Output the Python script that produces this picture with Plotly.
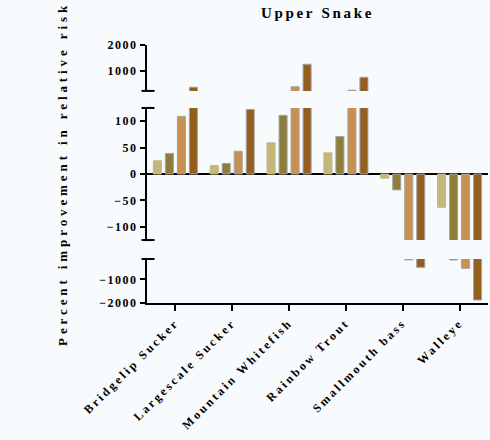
import plotly.graph_objects as go

# species along the x axis
species = ["Bridgelip Sucker", "Largescale Sucker", "Mountain Whitefish",
           "Rainbow Trout", "Smallmouth bass", "Walleye"]

# four scenarios per species (percent improvement in relative risk)
series_1 = [25, 16, 59, 40, -8, -63]
series_2 = [39, 20, 111, 71, -30, -170]
series_3 = [109, 43, 410, 280, -170, -525]
series_4 = [391, 122, 1266, 771, -483, -1872]

colors = ["#C4B77B", "#8E7D3A", "#C8914F", "#935F1F"]
outlines = ["#C4B77B", "#A3A3A3", "#A3A3A3", "#A3A3A3"]

# broken y axis: three segments, top to bottom
top_ticks = [1000, 2000]
mid_ticks = [-100, -50, 0, 50, 100]
bot_ticks = [-2000, -1000]

FONT = "Liberation Serif, Times New Roman, serif"

fig = go.Figure()
all_series = [series_1, series_2, series_3, series_4]
for axis in ["y", "y2", "y3"]:
    for i, vals in enumerate(all_series):
        fig.add_trace(go.Bar(
            x=species, y=vals, yaxis=axis, xaxis="x",
            marker=dict(color=colors[i], line=dict(color=outlines[i], width=1)),
            showlegend=False,
        ))

axis_common = dict(
    showline=True, linecolor="black", linewidth=2,
    ticks="outside", ticklen=5, tickwidth=2, tickcolor="black",
    showgrid=False, anchor="x",
    tickfont=dict(family=FONT, size=12, color="black", weight="bold"),
)

fig.update_layout(
    width=490, height=440,
    margin=dict(l=147, r=2, t=45, b=137),
    paper_bgcolor="#F8FBFD", plot_bgcolor="#F8FBFD",
    barmode="group", bargap=0.155, bargroupgap=0.33,
    title=dict(text="Upper Snake", x=0.5, xref="paper", xanchor="center",
               y=0.972, yanchor="middle",
               font=dict(family=FONT, size=15, color="black", weight="bold")),
    xaxis=dict(
        anchor="y3", showline=True, linecolor="black", linewidth=2,
        ticks="outside", ticklen=6, tickwidth=2, tickcolor="black",
        tickangle=-45, showgrid=False, range=[-0.5, 5.5],
        tickfont=dict(family=FONT, size=12, color="black", weight="bold"),
    ),
    yaxis=dict(domain=[0.822, 1.0], range=[250, 2000], tickvals=top_ticks,
               zeroline=False, **axis_common),
    yaxis2=dict(domain=[0.244, 0.756], range=[-125, 125], tickvals=mid_ticks,
                zeroline=True, zerolinecolor="black", zerolinewidth=2,
                **axis_common),
    yaxis3=dict(domain=[0.0, 0.1705], range=[-2000, -130], tickvals=bot_ticks,
                zeroline=False, **axis_common),
)

# caps at the axis breaks
for yref, pos in [("y domain", 0), ("y2 domain", 1), ("y2 domain", 0), ("y3 domain", 1)]:
    fig.add_shape(type="line", xref="paper", yref=yref,
                  x0=-0.016, x1=0.022, y0=pos, y1=pos,
                  line=dict(color="black", width=2))

fig.add_annotation(
    text="Percent improvement in relative risk",
    xref="paper", yref="y2 domain", x=-0.25, y=0.5,
    xanchor="center", yanchor="middle", textangle=-90, showarrow=False,
    font=dict(family=FONT, size=13, color="black", weight="bold"),
)

# no page margin, and letter spacing like the original graphic
spacing_js = """
document.body.style.margin = '0';
var gd = document.getElementById('{plot_id}');
function spaceText() {
  var s = [['.annotation-text', '3.9px'],
           ['.xaxislayer-above text', '2.6px'],
           ['.yaxislayer-above text', '1.5px'],
           ['.gtitle', '2.7px']];
  s.forEach(function(p){
    document.querySelectorAll(p[0]).forEach(function(el){
      el.style.letterSpacing = p[1];
    });
  });
}
spaceText();
if (gd && gd.on) { gd.on('plotly_afterplot', spaceText); }
setTimeout(spaceText, 50);
setTimeout(spaceText, 300);
"""

fig.write_html("out.html", post_script=spacing_js,
               config={"displayModeBar": False})
